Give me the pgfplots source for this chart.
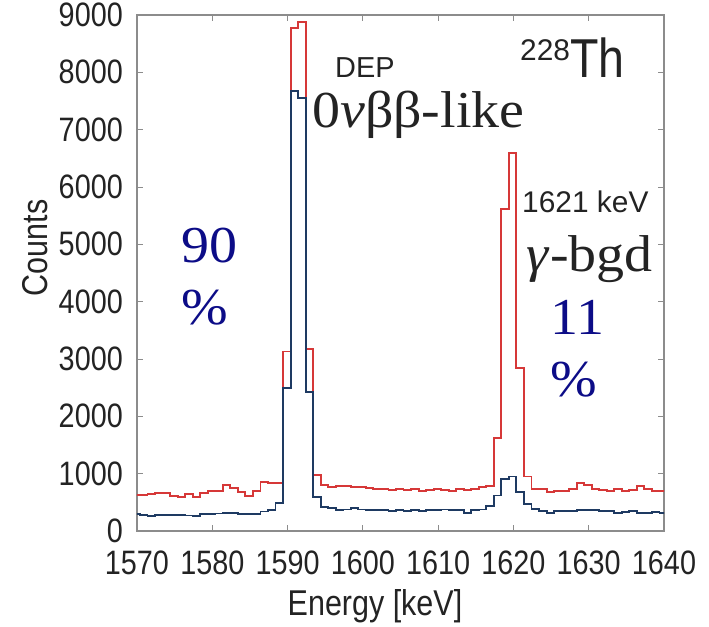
\documentclass[border=0pt]{standalone}
\usepackage{fontspec}
\usepackage{pgfplots}
\pgfplotsset{compat=1.18}
\setmainfont{Liberation Sans}
\newfontfamily\condsans{Liberation Sans}[FakeStretch=0.85]
\newfontfamily\serifw{Liberation Serif}[FakeStretch=1.08]
\definecolor{redline}{RGB}{214,56,56}
\definecolor{blueline}{RGB}{30,58,98}
\definecolor{navytxt}{RGB}{12,12,135}
\definecolor{framec}{RGB}{140,140,140}
\definecolor{txt}{RGB}{35,35,35}

\pgfplotstableread{
x y
1569.4 630
1570.4 630
1571.4 640
1572.4 660
1573.4 660
1574.4 610
1575.4 600
1576.4 640
1577.4 590
1578.4 660
1579.4 700
1580.4 700
1581.4 805
1582.4 745
1583.4 675
1584.4 612
1585.4 690
1586.4 860
1587.4 835
1588.4 845
1589.4 3130
1590.4 8780
1591.4 8880
1592.4 3180
1593.4 980
1594.4 805
1595.4 760
1596.4 790
1597.4 780
1598.4 770
1599.4 760
1600.4 750
1601.4 740
1602.4 730
1603.4 720
1604.4 740
1605.4 710
1606.4 730
1607.4 695
1608.4 710
1609.4 730
1610.4 720
1611.4 700
1612.4 730
1613.4 710
1614.4 740
1615.4 760
1616.4 780
1617.4 1620
1618.4 5610
1619.4 6600
1620.4 2840
1621.4 950
1622.4 730
1623.4 730
1624.4 675
1625.4 690
1626.4 705
1627.4 740
1628.4 840
1629.4 805
1630.4 740
1631.4 715
1632.4 690
1633.4 730
1634.4 690
1635.4 715
1636.4 785
1637.4 730
1638.4 705
1639.4 690
1640.4 690
}\redtab

\pgfplotstableread{
x y
1569.4 290
1570.4 285
1571.4 265
1572.4 275
1573.4 280
1574.4 280
1575.4 275
1576.4 270
1577.4 265
1578.4 290
1579.4 300
1580.4 305
1581.4 310
1582.4 310
1583.4 295
1584.4 290
1585.4 300
1586.4 340
1587.4 370
1588.4 490
1589.4 2500
1590.4 7680
1591.4 7560
1592.4 2430
1593.4 600
1594.4 425
1595.4 395
1596.4 367
1597.4 375
1598.4 395
1599.4 375
1600.4 367
1601.4 360
1602.4 360
1603.4 355
1604.4 360
1605.4 350
1606.4 360
1607.4 355
1608.4 360
1609.4 367
1610.4 375
1611.4 367
1612.4 367
1613.4 320
1614.4 367
1615.4 375
1616.4 440
1617.4 620
1618.4 900
1619.4 950
1620.4 680
1621.4 470
1622.4 380
1623.4 355
1624.4 320
1625.4 350
1626.4 350
1627.4 355
1628.4 360
1629.4 367
1630.4 367
1631.4 350
1632.4 350
1633.4 320
1634.4 330
1635.4 355
1636.4 320
1637.4 320
1638.4 330
1639.4 320
1640.4 320
}\bluetab

\begin{document}
\begin{tikzpicture}
\path[use as bounding box] (-137bp,-96bp) rectangle (572bp,531bp);
\begin{axis}[
  at={(0,0)}, anchor=south west,
  scale only axis, width=527bp, height=516bp,
  xmin=1570, xmax=1640, ymin=0, ymax=9000,
  xtick={1570,1580,...,1640}, ytick={0,1000,...,9000},
  tick align=inside, major tick length=6bp,
  tick style={framec, line width=0.8bp},
  axis line style={framec, line width=1.2bp},
  tick label style={font=\condsans\fontsize{34}{34}\selectfont, text=txt, inner sep=0pt},
  xticklabel style={anchor=north, yshift=-20bp},
  yticklabel style={anchor=east, xshift=-14bp, yshift=0bp},
  /pgf/number format/assume math mode=true,
  /pgf/number format/1000 sep={},
  scaled ticks=false,
  clip=true,
]
\addplot[const plot, redline, line width=1.9bp] table[x=x,y=y] {\redtab};
\addplot[const plot, blueline, line width=1.9bp] table[x=x,y=y] {\bluetab};
\end{axis}
% axis labels
\node[anchor=center, inner sep=0pt, font=\condsans\fontsize{36}{36}\selectfont, text=txt] at (238bp,-75bp) {Energy [keV]};
\node[anchor=center, inner sep=0pt, rotate=90, font=\condsans\fontsize{36}{36}\selectfont, text=txt] at (-102bp,283bp) {Counts};
% annotations
\node[anchor=base west, inner sep=0pt, font=\fontsize{29}{29}\selectfont, text=txt] at (198bp,453bp) {DEP};
\node[anchor=base west, inner sep=0pt, text=txt] at (383bp,453bp) {\fontsize{30}{30}\selectfont\raisebox{17bp}{228}\condsans\fontsize{55}{55}\selectfont Th};
\node[anchor=base west, inner sep=0pt, font=\serifw\fontsize{52}{52}\selectfont, text=txt] at (175bp,403bp) {0\textit{ν}ββ-like};
\node[anchor=base west, inner sep=0pt, font=\serifw\fontsize{52}{52}\selectfont, text=navytxt] at (44.7bp,268bp) {90};
\node[anchor=base west, inner sep=0pt, font=\serifw\fontsize{52}{52}\selectfont, text=navytxt] at (44.7bp,206bp) {\%};
\node[anchor=base west, inner sep=0pt, font=\fontsize{30}{30}\selectfont, text=txt] at (385bp,318bp) {1621 keV};
\node[anchor=base west, inner sep=0pt, font=\serifw\fontsize{52}{52}\selectfont, text=txt] at (389.7bp,259.3bp) {\textit{γ}-bgd};
\node[anchor=base west, inner sep=0pt, font=\serifw\fontsize{52}{52}\selectfont, text=navytxt] at (413bp,196bp) {11};
\node[anchor=base west, inner sep=0pt, font=\serifw\fontsize{52}{52}\selectfont, text=navytxt] at (413bp,134.3bp) {\%};
\end{tikzpicture}
\end{document}
